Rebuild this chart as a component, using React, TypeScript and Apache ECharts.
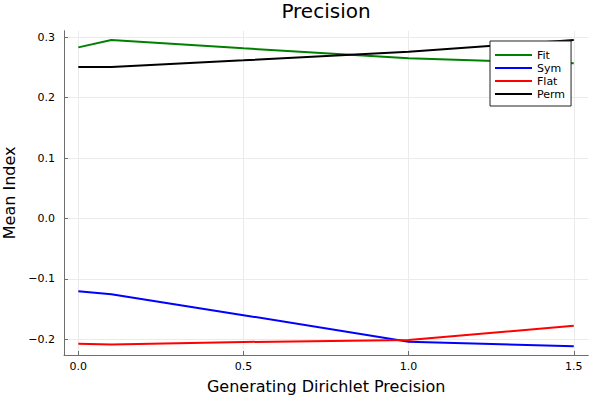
import React, { useEffect, useRef } from "react";
import * as echarts from "echarts";

const xValues = [0, 0.1, 0.5, 1.0, 1.5];
const fitValues = [0.2834, 0.2955, 0.2818, 0.2652, 0.257];
const symValues = [-0.1205, -0.1255, -0.16, -0.204, -0.2116];
const flatValues = [-0.2073, -0.2085, -0.2045, -0.2012, -0.1775];
const permValues = [0.2508, 0.251, 0.2619, 0.2762, 0.2955];
const xTicks = [0, 0.5, 1.0, 1.5];
const yTicks = [-0.2, -0.1, 0, 0.1, 0.2, 0.3];
const seriesNames = ["Fit", "Sym", "Flat", "Perm"];

const FONT = "DejaVu Sans";

const fmt = (v: number) => {
  const s = Math.abs(v).toFixed(1);
  return v < -1e-9 ? "\u2212" + s : s;
};

export default function App() {
  const ref = useRef<HTMLDivElement>(null);
  useEffect(() => {
    if (!ref.current) return;
    const chart = echarts.init(ref.current, null, { renderer: "svg" });
    const pair = (ys: number[]) => xValues.map((x, i) => [x, ys[i]]);
    const colors = ["#008000", "#0000ff", "#ff0000", "#000000"];
    const datas = [fitValues, symValues, flatValues, permValues];
    const axisCommon = {
      axisLine: { show: true, onZero: false, lineStyle: { color: "#6e6e6e", width: 1 } },
      axisTick: { show: true, inside: true, length: 4, lineStyle: { color: "#6e6e6e" } },
      splitLine: { show: true, lineStyle: { color: "#ebebeb", width: 1 } },
      nameTextStyle: { fontFamily: FONT, fontSize: 16, color: "#000" },
    };
    chart.setOption({
      animation: false,
      backgroundColor: "#fff",
      title: {
        text: "Precision",
        left: 326,
        top: 1,
        padding: 0,
        textAlign: "center",
        textStyle: { fontFamily: FONT, fontSize: 20, fontWeight: "normal", color: "#000" },
      },
      grid: {
        left: 64,
        right: 11.7,
        top: 30.7,
        bottom: 45,
        containLabel: false,
        outerBoundsMode: "none",
      },
      legend: {
        data: seriesNames,
        orient: "vertical",
        left: 490,
        top: 41,
        padding: [8, 6, 6, 5],
        itemGap: 1,
        itemWidth: 37,
        itemHeight: 2,
        icon: "rect",
        backgroundColor: "#fff",
        borderColor: "#222",
        borderWidth: 1,
        borderRadius: 0,
        textStyle: { fontFamily: FONT, fontSize: 11, color: "#000", lineHeight: 12 },
      },
      xAxis: {
        type: "value",
        min: -0.0433,
        max: 1.544,
        name: "Generating Dirichlet Precision",
        nameLocation: "middle",
        nameGap: 23,
        ...axisCommon,
        axisTick: { ...axisCommon.axisTick, customValues: xTicks },
        axisLabel: {
          customValues: xTicks,
          formatter: fmt,
          fontFamily: FONT,
          fontSize: 11,
          color: "#000",
          margin: 6,
        },
      },
      yAxis: {
        type: "value",
        min: -0.226,
        max: 0.311,
        name: "Mean Index",
        nameLocation: "middle",
        nameGap: 46,
        ...axisCommon,
        axisTick: { ...axisCommon.axisTick, customValues: yTicks },
        axisLabel: {
          customValues: yTicks,
          formatter: fmt,
          fontFamily: FONT,
          fontSize: 11,
          color: "#000",
          margin: 9,
        },
      },
      series: seriesNames.map((name, i) => ({
        name,
        type: "line",
        data: pair(datas[i]),
        symbol: "none",
        color: colors[i],
        lineStyle: { color: colors[i], width: 2 },
      })),
    });
    return () => chart.dispose();
  }, []);
  return (
    <div
      ref={ref}
      style={{ position: "fixed", left: 0, top: 0, width: 600, height: 400 }}
    />
  );
}
